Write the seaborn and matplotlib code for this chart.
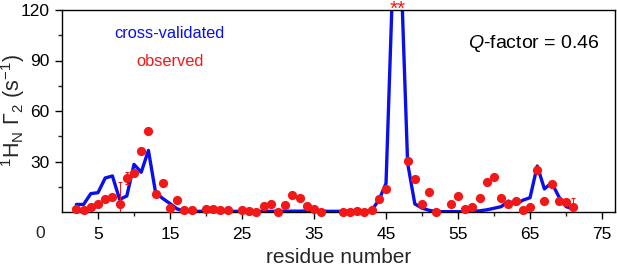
import numpy as np
import pandas as pd
import matplotlib
matplotlib.use("Agg")
import matplotlib.pyplot as plt
import matplotlib.transforms as mtransforms
from matplotlib.ticker import FixedLocator
import seaborn as sns

# observed data (red points)
obs_res = [2, 3, 4, 5, 6, 7, 8, 9, 10, 11, 12, 13, 14, 15, 16, 17, 18, 20, 21, 22, 23,
           25, 26, 27, 28, 29, 30, 31, 32, 33, 34, 35, 36, 39, 40, 41, 42, 43, 44, 45,
           48, 49, 50, 51, 52, 54, 55, 56, 57, 58, 59, 60, 61, 62, 63, 64, 65, 66, 67,
           68, 69, 70, 71]
obs_val = [1.8, 1.0, 3.2, 4.6, 7.7, 9.1, 4.9, 20.2, 23.4, 36.2, 48.0, 10.6, 17.2, 2.4, 6.9,
           1.2, 1.2, 1.8, 1.8, 1.2, 1.0, 1.4, 0.8, 0.2, 3.6, 4.9, 0.2, 4.2, 10.1, 8.1, 3.6,
           2.0, 0.2, 0.2, 0.2, 0.8, 0.2, 1.4, 7.5, 13.7, 30.5, 19.5, 4.6, 11.6, 0.2, 4.6,
           9.5, 1.8, 3.2, 8.3, 17.8, 21.0, 8.1, 4.8, 6.7, 1.2, 2.8, 25.0, 6.3, 16.4, 6.7,
           6.1, 3.2]
# error bars on a few observed points
err_res = [8, 9, 71]
err_val = [4.9, 20.2, 3.2]
err_size = [13.0, 3.3, 5.0]
# off-scale observed residues (marked with asterisks)
star_res = [46, 47]

# cross-validated back-calculation (blue line)
cv_res = list(range(2, 72))
cv_val = [4.5, 4.5, 10.9, 11.5, 20.2, 21.4, 7.5, 9.5, 28.3, 23.6, 36.6, 11.5, 8.0, 5.0,
          1.8, 0.6, 0.4, 0.4, 0.4, 0.4, 0.4, 0.4, 0.4, 0.4, 0.4, 0.4, 0.4, 0.4, 0.4, 0.4,
          0.5, 0.5, 0.6, 0.6, 0.5, 0.4, 0.4, 0.4, 0.4, 0.5, 0.6, 1.0, 7.0, 17.0, 146.0,
          154.0, 29.0, 4.8, 2.3, 1.0, 0.3, 0.2, 0.2, 0.2, 0.2, 0.3, 0.7, 1.3, 2.2, 3.2, 6.5,
          4.6, 7.0, 8.5, 27.3, 13.7, 17.4, 9.1, 3.2, 1.8]

xticks_major = [5, 15, 25, 35, 45, 55, 65, 75]
yticks_major = [30, 60, 90, 120]

sns.set_style("ticks")
plt.rcParams['font.family'] = ['Liberation Sans', 'DejaVu Sans']
plt.rcParams['mathtext.fontset'] = 'custom'
plt.rcParams['mathtext.rm'] = 'Liberation Sans'
plt.rcParams['mathtext.it'] = 'Liberation Sans:italic'

BLUE = '#0a10ea'
RED = '#f21818'

fig = plt.figure(figsize=(6.17, 2.67), dpi=100)
ax = fig.add_axes([62 / 617, 1 - 212 / 267, 553 / 617, 202 / 267])

cv_df = pd.DataFrame({'res': cv_res, 'val': cv_val})
obs_df = pd.DataFrame({'res': obs_res, 'val': obs_val})

sns.lineplot(data=cv_df, x='res', y='val', ax=ax, color=BLUE, lw=2.4, zorder=2)
ax.errorbar(err_res, err_val, yerr=err_size, fmt='none', ecolor=RED, elinewidth=0.8,
            capsize=1.5, capthick=0.8, zorder=3)
sns.scatterplot(data=obs_df, x='res', y='val', ax=ax, color=RED, s=44, linewidth=0,
                zorder=4, clip_on=False)

trans = mtransforms.blended_transform_factory(ax.transData, ax.transAxes)
for r in star_res:
    ax.text(r, 1.005, '*', transform=trans, color=RED, ha='center', va='center',
            fontsize=15, clip_on=False)

ax.set_xlim(0, 76.8)
ax.set_ylim(0, 120)
ax.xaxis.set_major_locator(FixedLocator(xticks_major))
ax.xaxis.set_minor_locator(FixedLocator([10, 20, 30, 40, 50, 60, 70]))
ax.yaxis.set_major_locator(FixedLocator(yticks_major))
ax.yaxis.set_minor_locator(FixedLocator([15, 45, 75, 105]))
ax.tick_params(axis='both', which='major', direction='out', length=5, width=1,
               labelsize=12.5, colors='black')
ax.tick_params(axis='x', which='major', pad=6)
ax.tick_params(axis='y', which='major', pad=4)
ax.tick_params(axis='both', which='minor', direction='out', length=3, width=1)
ax.tick_params(top=False, right=False)
for s in ax.spines.values():
    s.set_visible(True)
    s.set_linewidth(1.0)
    s.set_color('black')

ax.text(-22 / 553, -21 / 202, '0', transform=ax.transAxes, ha='center', va='center',
        fontsize=12.5)

ax.set_xlabel('residue number', fontsize=15)
ax.xaxis.set_label_coords(0.5, -0.18)
ax.set_ylabel(r'$^{1}$H$_{\mathrm{N}}$ $\Gamma_{2}$ (s$^{-1}$)', fontsize=15.5)
ax.yaxis.set_label_coords(-0.064, 0.5)

ax.text(0.195, 0.885, 'cross-validated', transform=ax.transAxes, color=BLUE,
        fontsize=11.8, ha='center', va='center')
ax.text(0.195, 0.745, 'observed', transform=ax.transAxes, color=RED,
        fontsize=11.8, ha='center', va='center')
ax.text(0.972, 0.835, r'$\mathit{Q}$-factor = 0.46', transform=ax.transAxes,
        color='black', fontsize=14, ha='right', va='center')

fig.savefig('out.png', dpi=100)
